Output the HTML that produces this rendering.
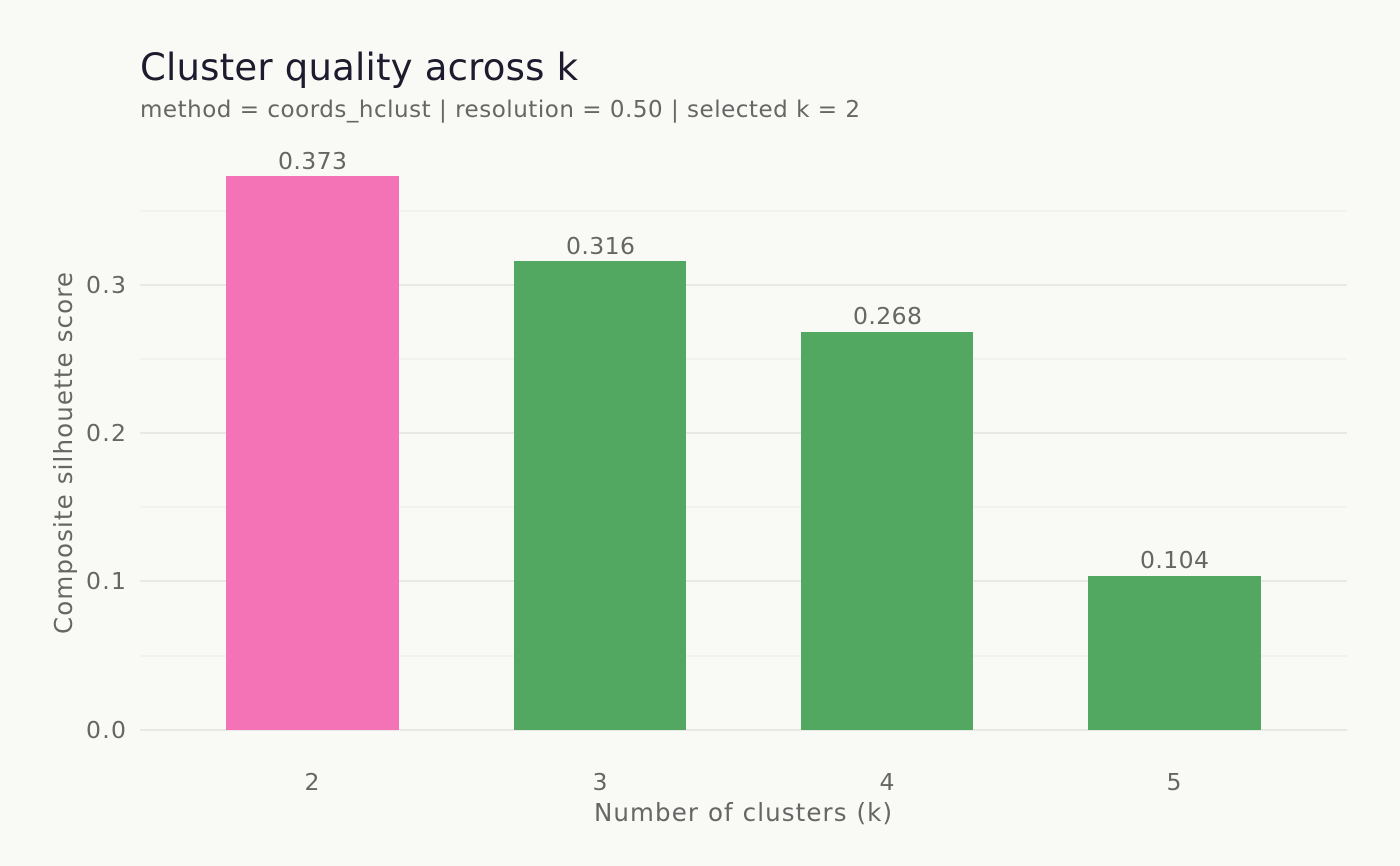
<!DOCTYPE html>
<html><head><meta charset="utf-8"><style>
html,body{margin:0;padding:0;background:#F9F9F5;}
svg{display:block;font-family:"DejaVu Sans","Liberation Sans",sans-serif;}
</style></head><body>
<svg width="1400" height="866" viewBox="0 0 1400 866" xmlns="http://www.w3.org/2000/svg">
<rect width="1400" height="866" fill="#F9F9F5"/>
<g stroke="#EFEFEC" stroke-width="1.2">
<line x1="140" x2="1347" y1="656" y2="656"/>
<line x1="140" x2="1347" y1="507" y2="507"/>
<line x1="140" x2="1347" y1="359" y2="359"/>
<line x1="140" x2="1347" y1="211" y2="211"/>
</g>
<g stroke="#E8E8E6" stroke-width="2">
<line x1="140" x2="1347" y1="730" y2="730"/>
<line x1="140" x2="1347" y1="581" y2="581"/>
<line x1="140" x2="1347" y1="433" y2="433"/>
<line x1="140" x2="1347" y1="285" y2="285"/>
</g>
<rect x="226" y="176" width="173" height="554" fill="#F472B6"/>
<rect x="514" y="261" width="172" height="469" fill="#52A860"/>
<rect x="801" y="332" width="172" height="398" fill="#52A860"/>
<rect x="1088" y="576" width="173" height="154" fill="#52A860"/>
<g fill="#666" font-size="23.5">
<text x="278" y="169" textLength="69" lengthAdjust="spacing">0.373</text>
<text x="566" y="254" textLength="69" lengthAdjust="spacing">0.316</text>
<text x="853" y="324" textLength="69" lengthAdjust="spacing">0.268</text>
<text x="1140" y="568" textLength="69" lengthAdjust="spacing">0.104</text>
</g>
<g fill="#666" font-size="23.5">
<text x="86" y="738" textLength="40" lengthAdjust="spacing">0.0</text>
<text x="86" y="589" textLength="40" lengthAdjust="spacing">0.1</text>
<text x="86" y="441" textLength="40" lengthAdjust="spacing">0.2</text>
<text x="86" y="293" textLength="40" lengthAdjust="spacing">0.3</text>
</g>
<g fill="#666" font-size="23.5" text-anchor="middle">
<text x="312" y="790">2</text>
<text x="600" y="790">3</text>
<text x="887" y="790">4</text>
<text x="1174" y="790">5</text>
</g>
<text x="594" y="821" fill="#666" font-size="24.5" textLength="298" lengthAdjust="spacing">Number of clusters (k)</text>
<text transform="translate(72,634) rotate(-90)" fill="#666" font-size="24.5" textLength="362" lengthAdjust="spacing">Composite silhouette score</text>
<text x="140" y="80" fill="#1C1C2E" font-size="37" textLength="438" lengthAdjust="spacing">Cluster quality across k</text>
<text x="140" y="117" fill="#666" font-size="23" textLength="720" lengthAdjust="spacing">method = coords_hclust | resolution = 0.50 | selected k = 2</text>
</svg>
</body></html>
